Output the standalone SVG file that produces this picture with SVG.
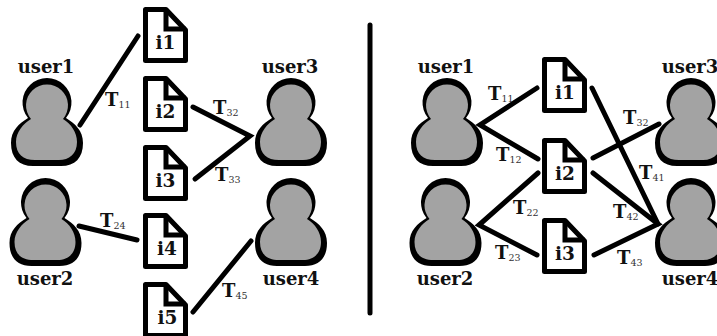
<svg xmlns="http://www.w3.org/2000/svg" width="717" height="336" viewBox="0 0 717 336">
<style>
text{font-family:"DejaVu Serif","Liberation Serif",serif;font-weight:bold;fill:#111}
.u{font-size:18px;text-anchor:middle}
.d{font-size:18.500px;text-anchor:middle}
.t{font-size:18px}
.s{font-size:9.500px;font-weight:normal;fill:#333}
.c{fill:none;stroke:#000;stroke-width:5;stroke-linecap:round;stroke-linejoin:miter}
.f{fill:#fff;stroke:#000;stroke-width:5;stroke-linejoin:round}
.fold{fill:none;stroke:#000;stroke-width:5}
</style>
<defs>
<g id="person">
<path fill="#000" d="M-19,38A24.500,24.500 0 1 1 19,38C28,44 36,50 36,63C36,78 28,86 14,86L-14,86C-28,86 -36,78 -36,63C-36,50 -28,44 -19,38Z"/>
<path fill="#a3a3a3" d="M-16,39A21,21 0 1 1 16,39C24,44 30,52 30,62C30,74 22,80 12,80L-12,80C-24,80 -31,74 -31,62C-31,52 -24,44 -16,39Z"/>
</g>
<g id="doc">
<path class="f" d="M2.500,2.500H23L42.500,23V53.500H2.500Z"/>
<path class="fold" d="M23,2.500V22H42.500"/>
</g>
</defs>
<g id="connectors">
<path class="c" d="M80,125L138,36"/>
<path class="c" d="M193,107L250,136L195,179"/>
<path class="c" d="M79,226L137,240"/>
<path class="c" d="M251,241L193,312"/>
<path class="c" d="M370,25V313"/>
<path class="c" d="M537,88L480,125L538,159"/>
<path class="c" d="M593,158L659,124"/>
<path class="c" d="M592,88L658,224"/>
<path class="c" d="M593,173L658,224L594,255"/>
<path class="c" d="M538,173L479,225L537,255"/>
</g>
<g id="L-user1"><use href="#person" x="47" y="80"/><text class="u" x="46" y="73">user1</text></g>
<g id="L-user2"><use href="#person" x="45.500" y="180"/><text class="u" x="45" y="285">user2</text></g>
<g id="L-user3"><use href="#person" x="291" y="80"/><text class="u" x="290" y="73">user3</text></g>
<g id="L-user4"><use href="#person" x="291" y="180"/><text class="u" x="291" y="285">user4</text></g>
<g id="L-i1"><use href="#doc" x="143" y="7"/><text class="d" x="165.500" y="49">i1</text></g>
<g id="L-i2"><use href="#doc" x="143" y="76"/><text class="d" x="165.500" y="118">i2</text></g>
<g id="L-i3"><use href="#doc" x="143" y="145"/><text class="d" x="165.500" y="187">i3</text></g>
<g id="L-i4"><use href="#doc" x="143" y="213"/><text class="d" x="167" y="255">i4</text></g>
<g id="L-i5"><use href="#doc" x="143" y="282"/><text class="d" x="167.500" y="324">i5</text></g>
<g id="R-user1"><use href="#person" x="447" y="80"/><text class="u" x="446" y="73">user1</text></g>
<g id="R-user2"><use href="#person" x="445.500" y="180"/><text class="u" x="445" y="285">user2</text></g>
<g id="R-user3"><use href="#person" x="691" y="80"/><text class="u" x="690" y="73">user3</text></g>
<g id="R-user4"><use href="#person" x="691" y="180"/><text class="u" x="690" y="285">user4</text></g>
<g id="R-i1"><use href="#doc" x="542" y="57"/><text class="d" x="565" y="99">i1</text></g>
<g id="R-i2"><use href="#doc" x="542" y="138"/><text class="d" x="565" y="180">i2</text></g>
<g id="R-i3"><use href="#doc" x="542" y="218"/><text class="d" x="565" y="260">i3</text></g>
<g id="labels">
<text class="t" x="105" y="106">T<tspan class="s" dy="2">11</tspan></text>
<text class="t" x="213" y="114">T<tspan class="s" dy="2">32</tspan></text>
<text class="t" x="215" y="181">T<tspan class="s" dy="2">33</tspan></text>
<text class="t" x="100" y="227">T<tspan class="s" dy="2">24</tspan></text>
<text class="t" x="222" y="297">T<tspan class="s" dy="2">45</tspan></text>
<text class="t" x="488" y="100">T<tspan class="s" dy="2">11</tspan></text>
<text class="t" x="496" y="161">T<tspan class="s" dy="2">12</tspan></text>
<text class="t" x="623" y="124">T<tspan class="s" dy="2">32</tspan></text>
<text class="t" x="639" y="179">T<tspan class="s" dy="2">41</tspan></text>
<text class="t" x="513" y="214">T<tspan class="s" dy="2">22</tspan></text>
<text class="t" x="613" y="218">T<tspan class="s" dy="2">42</tspan></text>
<text class="t" x="495" y="259">T<tspan class="s" dy="2">23</tspan></text>
<text class="t" x="617" y="264">T<tspan class="s" dy="2">43</tspan></text>
</g>
</svg>
